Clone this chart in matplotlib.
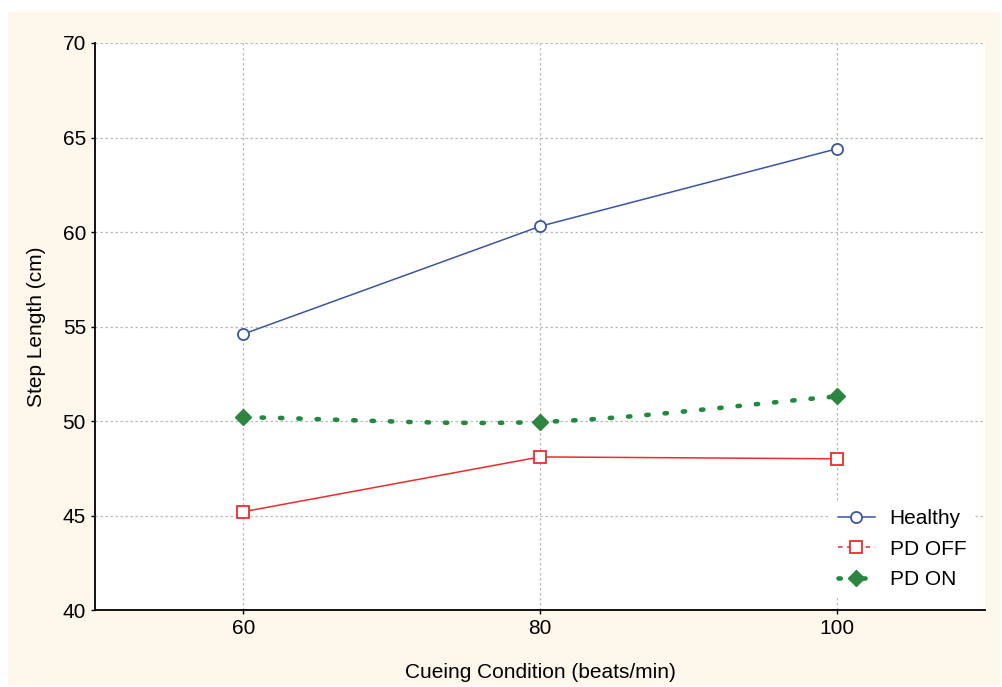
import matplotlib.pyplot as plt
from matplotlib.patches import Rectangle, PathPatch
from matplotlib.path import Path
from matplotlib.lines import Line2D

plt.rcParams['font.family'] = ['Liberation Sans', 'DejaVu Sans']

cueing = [60, 80, 100]
healthy = [54.6, 60.3, 64.4]
pd_off = [45.2, 48.1, 48.0]
pd_on = [50.2, 49.95, 51.3]

fig = plt.figure(figsize=(10.02, 6.87), dpi=100, facecolor='white')
# cream panel behind the plot
fig.patches.append(Rectangle((8/1002, 2/687), 992/1002, 673/687,
                             transform=fig.transFigure, facecolor='#fef8ec',
                             edgecolor='none', zorder=-1))

ax = fig.add_axes([95/1002, 1-610/687, 890/1002, 567/687])
ax.set_facecolor('white')

blue, red, green = '#3a55a4', '#ee2b2b', '#1f8a3c'
ax.plot(cueing, healthy, color=blue, lw=1.1, marker='o', ms=8,
        mfc='white', mec=blue, mew=1.3)
ax.plot(cueing, pd_off, color=red, lw=1.1, marker='s', ms=8,
        mfc='white', mec=red, mew=1.3)

# smooth (spline-like) dotted curve through PD ON points
verts = [(cueing[0], pd_on[0])]
codes = [Path.MOVETO]
n = len(cueing)
for i in range(n - 1):
    x0, y0 = cueing[i], pd_on[i]
    x1, y1 = cueing[i + 1], pd_on[i + 1]
    xa, ya = cueing[max(i - 1, 0)], pd_on[max(i - 1, 0)]
    xb, yb = cueing[min(i + 2, n - 1)], pd_on[min(i + 2, n - 1)]
    t0 = ((x1 - xa) / 2, (y1 - ya) / 2) if i > 0 else (x1 - x0, y1 - y0)
    t1 = ((xb - x0) / 2, (yb - y0) / 2) if i < n - 2 else (x1 - x0, y1 - y0)
    verts += [(x0 + t0[0] / 3, y0 + t0[1] / 3),
              (x1 - t1[0] / 3, y1 - t1[1] / 3), (x1, y1)]
    codes += [Path.CURVE4] * 3
ax.add_patch(PathPatch(Path(verts, codes), facecolor='none', edgecolor=green,
                       lw=3.3, ls=(0, (0.5, 3.5)), capstyle='round'))
ax.plot(cueing, pd_on, ls='none', marker='D', ms=8, mfc='#2e8540',
        mec='#2e8540')

ax.set_xlim(50, 110)
ax.set_ylim(40, 70)
ax.set_xticks(cueing)
ax.set_yticks(range(40, 71, 5))
ax.grid(True, color='#bbbbbb', ls=(0, (2, 2)), lw=0.9)
ax.set_axisbelow(True)
for s in ['top', 'right']:
    ax.spines[s].set_visible(False)
ax.spines['left'].set_linewidth(1.3)
ax.spines['bottom'].set_linewidth(1.3)
ax.tick_params(labelsize=15, length=3, width=1, direction='out')

ax.set_xlabel('Cueing Condition (beats/min)', fontsize=15, labelpad=18)
ax.set_ylabel('Step Length (cm)', fontsize=15, labelpad=12)

handles = [
    Line2D([], [], color=blue, lw=1.1, marker='o', ms=8, mfc='white',
           mec=blue, mew=1.3),
    Line2D([], [], color=red, lw=1.1, ls=(0, (3, 3)), marker='s', ms=8,
           mfc='white', mec=red, mew=1.3),
    Line2D([], [], color=green, lw=3.3, ls=(0, (0.5, 2.2)),
           dash_capstyle='round', marker='D', ms=8, mfc='#2e8540',
           mec='#2e8540'),
]
leg = ax.legend(handles, ['Healthy', 'PD OFF', 'PD ON'], loc='lower right',
                bbox_to_anchor=(1.0, 0.004), frameon=True, fontsize=15,
                handlelength=1.8, handletextpad=0.7, labelspacing=0.55)
leg.get_frame().set_facecolor('white')
leg.get_frame().set_edgecolor('none')
leg.get_frame().set_alpha(1)

fig.savefig('out.png', dpi=100)
